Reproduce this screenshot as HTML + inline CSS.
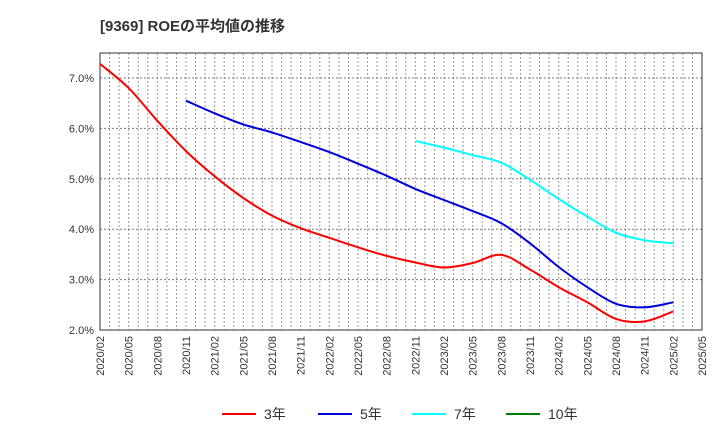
<!DOCTYPE html>
<html><head><meta charset="utf-8"><style>
body{margin:0;background:#fff;width:720px;height:440px;overflow:hidden;font-family:"Liberation Sans","Noto Sans CJK JP",sans-serif}
</style></head><body>
<svg id="chart" width="720" height="440" xmlns="http://www.w3.org/2000/svg" font-family="Liberation Sans, Noto Sans CJK JP, sans-serif">
<text x="100" y="31" font-size="15" font-weight="bold" fill="#333">[9369]  ROEの平均値の推移</text>
<g id="grid"></g><g id="axes"></g><g id="series"></g><g id="legend"></g>
</svg>
<script>
const xLabels=["2020/02","2020/05","2020/08","2020/11","2021/02","2021/05","2021/08","2021/11","2022/02","2022/05","2022/08","2022/11","2023/02","2023/05","2023/08","2023/11","2024/02","2024/05","2024/08","2024/11","2025/02","2025/05"];
const yTicks=[2,3,4,5,6,7];
const red3=[7.28,6.8,6.15,5.55,5.05,4.62,4.27,4.02,3.83,3.64,3.47,3.34,3.24,3.33,3.49,3.2,2.85,2.55,2.22,2.17,2.37];
const blue5=[null,null,null,6.55,6.3,6.08,5.92,5.73,5.53,5.3,5.06,4.8,4.58,4.36,4.12,3.72,3.25,2.85,2.52,2.45,2.55];
const cyan7=[null,null,null,null,null,null,null,null,null,null,null,5.75,5.62,5.47,5.32,4.98,4.6,4.25,3.93,3.78,3.72];
const green10=[];
const NS="http://www.w3.org/2000/svg";
const L=100,R=702,T=53,B=330;
const xs=i=>L+(R-L)*i/(xLabels.length-1);
const ys=v=>330-(v-2)*50.4;
function mk(t,a,p){const e=document.createElementNS(NS,t);for(const k in a)e.setAttribute(k,a[k]);p.appendChild(e);return e;}
const grid=document.getElementById('grid'),axes=document.getElementById('axes'),ser=document.getElementById('series'),leg=document.getElementById('legend');
mk('rect',{x:L,y:T,width:R-L,height:B-T,fill:'#fff'},grid);
const nMonths=(xLabels.length-1)*3;
for(let m=1;m<nMonths;m++){const x=L+(R-L)*m/nMonths;
const g=mk('line',{x1:x,x2:x,y1:T,y2:B,stroke:'#999','stroke-dasharray':'2,2','stroke-width':1},grid);

}
yTicks.forEach(v=>{const y=ys(v);
if(v>2){const g=mk('line',{x1:L,x2:R,y1:y,y2:y,stroke:'#777','stroke-dasharray':'2,2'},grid);

}
const t=mk('text',{x:L-6,y:y+4,'text-anchor':'end','font-size':11,fill:'#333'},axes);t.textContent=v.toFixed(1)+'%';

});
xLabels.forEach((s,i)=>{const x=xs(i);
const t=mk('text',{x:x+4,y:B+6,'text-anchor':'end','font-size':11,fill:'#333',transform:`rotate(-90 ${x+4} ${B+6})`},axes);t.textContent=s;

});
const fr=mk('rect',{x:L,y:T,width:R-L,height:B-T,fill:'none',stroke:'#333'},axes);


function line(arr,color,name){
const pts=[];arr.forEach((v,i)=>{if(v!=null)pts.push([xs(i),ys(v)]);});
if(pts.length<2)return;
let d='M'+pts[0][0].toFixed(1)+','+pts[0][1].toFixed(1);
for(let k=0;k<pts.length-1;k++){const p0=pts[Math.max(0,k-1)],p1=pts[k],p2=pts[k+1],p3=pts[Math.min(pts.length-1,k+2)];
const c1x=p1[0]+(p2[0]-p0[0])/6,c1y=p1[1]+(p2[1]-p0[1])/6,c2x=p2[0]-(p3[0]-p1[0])/6,c2y=p2[1]-(p3[1]-p1[1])/6;
d+=`C${c1x.toFixed(1)},${c1y.toFixed(1)} ${c2x.toFixed(1)},${c2y.toFixed(1)} ${p2[0].toFixed(1)},${p2[1].toFixed(1)}`;}
const p=mk('path',{d:d,fill:'none',stroke:color,'stroke-width':2,'stroke-linejoin':'round'},ser);

}
line(red3,'#ff0000','series-3yr');line(blue5,'#0000dd','series-5yr');line(cyan7,'#00ffff','series-7yr');line(green10,'#008000','series-10yr');
[['3年','#ff0000',222],['5年','#0000dd',318],['7年','#00ffff',412],['10年','#008000',506]].forEach(([lab,c,x])=>{
const g=mk('g',{},leg);


mk('line',{x1:x,x2:x+34,y1:414,y2:414,stroke:c,'stroke-width':2},g);
const t=mk('text',{x:x+42,y:419,'font-size':14,fill:'#333'},g);t.textContent=lab;});
</script>
</body></html>
